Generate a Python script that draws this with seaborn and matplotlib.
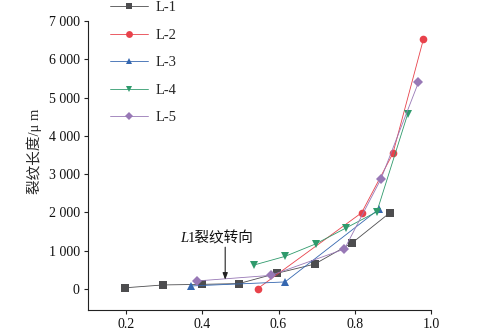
import matplotlib
matplotlib.use("Agg")
import matplotlib.pyplot as plt
import seaborn as sns
import pandas as pd
from matplotlib.ticker import FuncFormatter

# ---- data ----
series_names = ["L-1", "L-2", "L-3", "L-4", "L-5"]
l1_x = [0.197, 0.298, 0.399, 0.496, 0.596, 0.695, 0.794, 0.892]
l1_y = [30, 105, 120, 140, 410, 650, 1210, 1990]
l2_x = [0.545, 0.818, 0.900, 0.980]
l2_y = [8, 1990, 3540, 6520]
l3_x = [0.370, 0.617, 0.864]
l3_y = [78, 183, 2090]
l4_x = [0.536, 0.617, 0.697, 0.777, 0.858, 0.939]
l4_y = [626, 851, 1175, 1593, 2018, 4575]
l5_x = [0.386, 0.580, 0.773, 0.869, 0.967]
l5_y = [209, 355, 1044, 2880, 5394]
x_ticks = [0.2, 0.4, 0.6, 0.8, 1.0]
y_ticks = [0, 1000, 2000, 3000, 4000, 5000, 6000, 7000]

colors = {"L-1": "#4d4d4f", "L-2": "#e8424b", "L-3": "#3567b0",
          "L-4": "#2f9a6c", "L-5": "#9878b6"}
markers = {"L-1": "s", "L-2": "o", "L-3": "^", "L-4": "v", "L-5": "D"}

xs = [l1_x, l2_x, l3_x, l4_x, l5_x]
ys = [l1_y, l2_y, l3_y, l4_y, l5_y]
rows = []
for name, sx, sy in zip(series_names, xs, ys):
    for a, b in zip(sx, sy):
        rows.append({"x": a, "y": b, "series": name})
df = pd.DataFrame(rows)

sns.set_style("ticks")
plt.rcParams["font.family"] = ["Liberation Serif", "Noto Sans CJK SC"]
plt.rcParams["axes.unicode_minus"] = False

fig = plt.figure(figsize=(4.82, 3.32), dpi=100)
ax = fig.add_axes([88/482, 1-310/332, (431-88)/482, (310-21)/332])

sns.lineplot(data=df, x="x", y="y", hue="series", style="series",
             hue_order=series_names, style_order=series_names,
             palette=colors, markers=markers, dashes=False,
             sort=False, estimator=None, ax=ax, legend=False,
             linewidth=0.6, markersize=5.5, markeredgewidth=0)

data_lines = [ln for ln in ax.lines if len(ln.get_xdata()) > 0]
for line in data_lines:
    if line.get_marker() == "D":
        line.set_markersize(4.8)

ax.set_xlim(0.1, 1.0)
ax.set_ylim(-550, 7000)
ax.set_xticks(x_ticks)
ax.set_yticks(y_ticks)
ax.xaxis.set_major_formatter(FuncFormatter(lambda v, p: f"{v:.1f}"))
ax.yaxis.set_major_formatter(FuncFormatter(lambda v, p: f"{int(v):,}".replace(",", " ")))
ax.tick_params(axis="both", labelsize=10, length=3, width=0.8, colors="#222222", pad=3)
for lab in ax.get_xticklabels() + ax.get_yticklabels():
    lab.set_color("#111111")
for s in ["top", "right"]:
    ax.spines[s].set_visible(False)
for s in ["left", "bottom"]:
    ax.spines[s].set_linewidth(0.8)
    ax.spines[s].set_color("#222222")

ax.set_xlabel("")
ax.set_ylabel("裂纹长度/μ m", fontsize=10.5, labelpad=8)
ax.yaxis.set_label_coords(-0.135, 0.55)

# annotation: arrow + text (italic L, then the rest)
ax.annotate("", xy=(0.46, 240), xytext=(0.46, 1090),
            arrowprops=dict(arrowstyle="-|>,head_length=0.4,head_width=0.15",
                            color="#222222", lw=0.8, shrinkA=0, shrinkB=0))
ax.text(0.362, 1310, "L", fontsize=10.5, style="italic", ha="right", va="center",
        color="#111111")
ax.text(0.362, 1310, "1裂纹转向", fontsize=10.5, ha="left", va="center",
        color="#111111")

leg = ax.legend(data_lines[:len(series_names)], series_names, loc="upper left",
                bbox_to_anchor=(110/482, 1 - 1/332),
                bbox_transform=fig.transFigure, frameon=False, fontsize=10.5,
                borderpad=0, borderaxespad=0, labelspacing=0.98, handlelength=2.6,
                handletextpad=0.5, markerscale=0.9)

fig.savefig("out.png", dpi=100)
